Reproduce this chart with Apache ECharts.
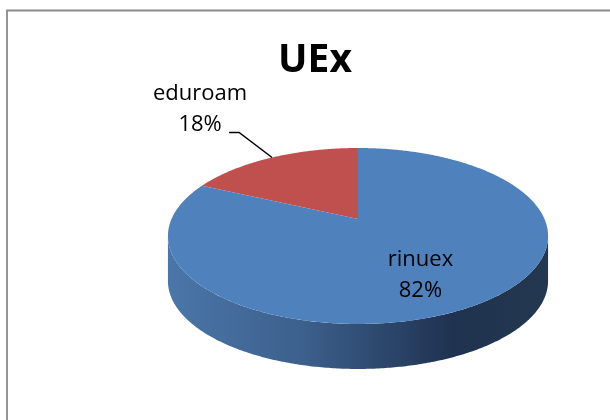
<!DOCTYPE html>
<html>
<head>
<meta charset="utf-8">
<script src="https://cdn.jsdelivr.net/npm/echarts@6/dist/echarts.min.js"></script>
<style>
html,body{margin:0;padding:0;background:#fff;}
#main{width:610px;height:420px;}
</style>
</head>
<body>
<div id="main"></div>
<script>
// ---- data ----
const titleText = 'UEx';
const categories = ['eduroam', 'rinuex'];
const values = [18, 82];
const colors = ['#C0504D', '#4F81BD'];
const sideColors = ['#9A3B39', '#3E659A'];

// ---- layout (3D pie projection) ----
const CX = 358, CY = 219;    // projected centre of the top face
const RA = 186.5, RB = 84.7; // horizontal / vertical radii
const K = 0.193;             // perspective factor
const DEPTH = 45;            // thickness of the pie
const FONT = 'Open Sans';

const total = values.reduce((a, b) => a + b, 0);
const startAngles = [], endAngles = [];
let acc = Math.PI / 2; // start at 12 o'clock, counter-clockwise
values.forEach(v => {
  startAngles.push(acc);
  acc += v / total * Math.PI * 2;
  endAngles.push(acc);
});

function proj(t, r) {
  r = r == null ? 1 : r;
  const u = r * Math.cos(t), v = r * Math.sin(t);
  const d = 1 + K * v;
  return [CX + RA * u / d, CY - RB * v / d];
}
function arc(t1, t2, dy) {
  const pts = [];
  const n = Math.max(4, Math.ceil(Math.abs(t2 - t1) / 0.01));
  for (let i = 0; i <= n; i++) {
    const p = proj(t1 + (t2 - t1) * i / n);
    pts.push([p[0], p[1] + (dy || 0)]);
  }
  return pts;
}

const frontA = Math.PI + Math.asin(K);
const frontB = 2 * Math.PI - Math.asin(K);

function renderItem(params, api) {
  const i = params.dataIndex;
  const s = startAngles[i], e = endAngles[i];
  const children = [];
  // side (front visible part)
  [-2 * Math.PI, 0, 2 * Math.PI].forEach(off => {
    const a = Math.max(s, frontA + off), b = Math.min(e, frontB + off);
    if (b > a) {
      const top = arc(a, b, 0);
      const bot = arc(b, a, DEPTH);
      children.push({
        type: 'polygon', z2: 0,
        shape: { points: top.concat(bot) },
        style: {
          fill: {
            type: 'linear', x: 0, y: 0, x2: 1, y2: 0,
            colorStops: i === 1 ? [
              { offset: 0, color: '#4A76A9' },
              { offset: 0.35, color: '#3D608D' },
              { offset: 0.75, color: '#1F3250' },
              { offset: 1, color: '#23384F' }
            ] : [
              { offset: 0, color: sideColors[i] },
              { offset: 1, color: '#5a2322' }
            ]
          }
        }
      });
    }
  });
  // top face
  children.push({
    type: 'polygon', z2: 1,
    shape: { points: [[CX, CY]].concat(arc(s, e, 0)) },
    style: { fill: colors[i] }
  });
  // label
  const pct = Math.round(values[i] / total * 100) + '%';
  const mid = (s + e) / 2;
  const txt = categories[i] + '\n' + pct;
  const labelStyle = {
    text: txt, fontFamily: FONT, fontSize: 22, lineHeight: 31,
    fill: '#000', align: 'center', verticalAlign: 'middle'
  };
  if (values[i] / total < 0.3) {
    const anchor = proj(mid, 1);
    const elbow = [anchor[0] - 33, anchor[1] - 25];
    const end = [elbow[0] - 10, elbow[1]];
    children.push({
      type: 'polyline', z2: 3,
      shape: { points: [end, elbow, anchor] },
      style: { stroke: '#000', lineWidth: 1.5, fill: null }
    });
    children.push({
      type: 'text', z2: 3,
      x: end[0] - 29, y: end[1] - 23,
      style: labelStyle
    });
  } else {
    const p = proj(mid, 0.6);
    children.push({
      type: 'text', z2: 3,
      x: p[0] - 4, y: p[1] + 9,
      style: labelStyle
    });
  }
  return { type: 'group', children: children };
}

const chart = echarts.init(document.getElementById('main'), null, { renderer: 'canvas' });
chart.setOption({
  backgroundColor: '#fff',
  animation: false,
  title: {
    text: titleText,
    left: 310, top: 36, textAlign: 'center',
    textStyle: { fontFamily: FONT, fontWeight: 'bold', fontSize: 39, color: '#000' }
  },
  graphic: [{
    type: 'rect', silent: true,
    shape: { x: 7, y: 10.5, width: 640, height: 440 },
    style: { stroke: '#8A8A8A', lineWidth: 1.8, fill: null }
  }],
  series: [{
    type: 'custom',
    coordinateSystem: 'none',
    renderItem: renderItem,
    data: values.map((v, i) => ({ name: categories[i], value: v }))
  }]
});
</script>
</body>
</html>
